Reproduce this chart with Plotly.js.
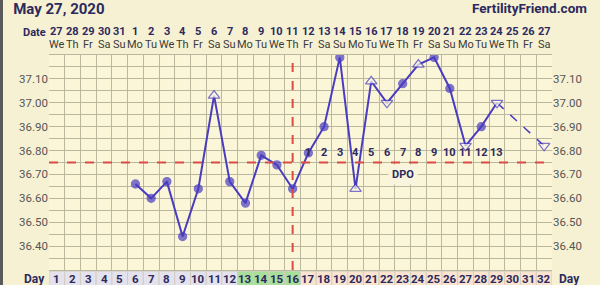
<!DOCTYPE html>
<html>
<head>
<meta charset="utf-8">
<script src="https://cdn.plot.ly/plotly-3.0.1.min.js"></script>
<style>
  html, body { margin: 0; padding: 0; background: #f7f1d3; }
  #chart { width: 600px; height: 285px; }
</style>
</head>
<body>
<div id="chart"></div>
<script>
// ---- data ----
const days = [1,2,3,4,5,6,7,8,9,10,11,12,13,14,15,16,17,18,19,20,21,22,23,24,25,26,27,28,29,30,31,32];
const dates = [27,28,29,30,31,1,2,3,4,5,6,7,8,9,10,11,12,13,14,15,16,17,18,19,20,21,22,23,24,25,26,27];
const weekdays = ['We','Th','Fr','Sa','Su','Mo','Tu','We','Th','Fr','Sa','Su','Mo','Tu','We','Th','Fr','Sa','Su','Mo','Tu','We','Th','Fr','Sa','Su','Mo','Tu','We','Th','Fr','Sa'];
const temps = [null,null,null,null,null,36.66,36.60,36.67,36.44,36.64,37.03,36.67,36.58,36.78,36.74,36.64,36.79,36.90,37.19,36.64,37.09,37.00,37.08,37.16,37.19,37.06,36.82,36.90,37.00,null,null,36.82];
// c = circle, u = open triangle up, d = open triangle down
const markerKinds = [null,null,null,null,null,'c','c','c','c','c','u','c','c','c','c','c','c','c','c','u','u','d','c','u','c','c','d','c','d',null,null,'d'];
const phase = ['a','a','a','a','a','a','a','a','a','a','a','a','f','f','f','f','l','l','l','l','l','l','l','l','l','l','l','l','l','l','l','l'];
const coverline = 36.75;
const ovulationDay = 16;
const dpoDays = [17,18,19,20,21,22,23,24,25,26,27,28,29];
const dpoLabels = ['1','2','3','4','5','6','7','8','9','10','11','12','13'];
const yTickVals = [36.40,36.50,36.60,36.70,36.80,36.90,37.00,37.10];
const yTickText = ['36.40','36.50','36.60','36.70','36.80','36.90','37.00','37.10'];

// ---- styles ----
const LINE = '#4a3cc0';
const NAVY = '#2c2a5e';
const GRID = '#bcb79f';
const RED = '#dc4b45';
const phaseColor = {a: '#e4e2ec', f: '#a7df9b', l: '#fbe4cf'};

// solid line: up to last point before the gap
let lastSolid = temps.length - 1;
for (let i = 0; i < temps.length; i++) {
  if (temps[i] !== null && i + 1 < temps.length && temps[i + 1] === null && temps.slice(i + 1).some(v => v !== null) && i > 6) { lastSolid = i; break; }
}
const solidX = days.slice(0, lastSolid + 1);
const solidY = temps.slice(0, lastSolid + 1);
let nextIdx = lastSolid + 1;
while (nextIdx < temps.length && temps[nextIdx] === null) nextIdx++;
const dashX = [days[lastSolid], days[nextIdx]];
const dashY = [temps[lastSolid], temps[nextIdx]];

const mX = [], mY = [], mSym = [], mCol = [], mSize = [];
for (let i = 0; i < days.length; i++) {
  if (temps[i] === null) continue;
  mX.push(days[i]); mY.push(temps[i]);
  const k = markerKinds[i];
  if (k === 'c') { mSym.push('circle'); mCol.push(LINE); mSize.push(8); }
  else if (k === 'u') { mSym.push('triangle-up'); mCol.push('#fbf8e6'); mSize.push(10); }
  else { mSym.push('triangle-down'); mCol.push('#fbf8e6'); mSize.push(10); }
}

const traces = [
  {x: solidX, y: solidY, type: 'scatter', mode: 'lines', connectgaps: false,
   line: {color: LINE, width: 2}, hoverinfo: 'skip', showlegend: false},
  {x: dashX, y: dashY, type: 'scatter', mode: 'lines',
   line: {color: LINE, width: 1.5, dash: 'dash'}, hoverinfo: 'skip', showlegend: false},
  {x: mX, y: mY, type: 'scatter', mode: 'markers',
   marker: {symbol: mSym, color: mCol, size: mSize, line: {color: LINE, width: 1.3}},
   hoverinfo: 'skip', showlegend: false},
  {x: [1], y: [36.5], type: 'scatter', mode: 'none', yaxis: 'y2', hoverinfo: 'skip', showlegend: false}
];

// grid values every 0.05
const gridVals = [];
const gridText = [];
for (let v = 36.30; v <= 37.2001; v += 0.05) {
  const r = Math.round(v * 100) / 100;
  gridVals.push(r);
  const idx = yTickVals.findIndex(t => Math.abs(t - r) < 1e-6);
  gridText.push(idx >= 0 ? yTickText[idx] : '');
}

const shapes = [];
const annotations = [];

// day row boxes
for (let i = 0; i < days.length; i++) {
  shapes.push({type: 'rect', xref: 'x', yref: 'paper', x0: days[i] - 0.5, x1: days[i] + 0.5,
    y0: -0.09, y1: -0.005, fillcolor: phaseColor[phase[i]], line: {color: '#d2cdc2', width: 1}, layer: 'below'});
  annotations.push({xref: 'x', yref: 'paper', x: days[i], y: -0.04, text: '<b>' + days[i] + '</b>',
    showarrow: false, font: {family: 'Roboto, sans-serif', size: 11.5, color: NAVY}, yanchor: 'middle'});
  annotations.push({xref: 'x', yref: 'paper', x: days[i], y: 1.11, text: '<b>' + dates[i] + '</b>',
    showarrow: false, font: {family: 'Roboto, sans-serif', size: 11, color: NAVY}, yanchor: 'middle'});
  annotations.push({xref: 'x', yref: 'paper', x: days[i], y: 1.05, text: weekdays[i],
    showarrow: false, font: {family: 'Roboto, sans-serif', size: 11, color: '#3a3a3a'}, yanchor: 'middle'});
}

// coverline and ovulation line
shapes.push({type: 'line', xref: 'paper', yref: 'y', x0: 0, x1: 1, y0: coverline, y1: coverline,
  line: {color: RED, width: 2, dash: 'dash'}});
shapes.push({type: 'line', xref: 'x', yref: 'paper', x0: ovulationDay, x1: ovulationDay, y0: 0, y1: 1,
  line: {color: RED, width: 2, dash: 'dash'}});
// left frame edge
shapes.push({type: 'rect', xref: 'paper', yref: 'paper', x0: -49/503, x1: -46/503, y0: -0.1, y1: 1.3,
  fillcolor: '#5a5a5a', line: {width: 0}});

// DPO numbers
for (let i = 0; i < dpoDays.length; i++) {
  annotations.push({xref: 'x', yref: 'y', x: dpoDays[i], y: 36.79, text: '<b>' + dpoLabels[i] + '</b>',
    showarrow: false, font: {family: 'Roboto, sans-serif', size: 11, color: NAVY}, yanchor: 'middle'});
}
annotations.push({xref: 'x', yref: 'y', x: 23, y: 36.70, text: '<b>DPO</b>', showarrow: false,
  font: {family: 'Roboto, sans-serif', size: 11, color: NAVY}, bgcolor: '#f8f4dd', borderpad: 3, yanchor: 'middle'});

// header texts
annotations.push({xref: 'paper', yref: 'paper', x: -1/503, y: 1.105, text: '<b>Date</b>', showarrow: false,
  xanchor: 'right', yanchor: 'middle', font: {family: 'Roboto, sans-serif', size: 11, color: NAVY}});
annotations.push({xref: 'paper', yref: 'paper', x: -2/503, y: -0.04, text: '<b>Day</b>', showarrow: false,
  xanchor: 'right', yanchor: 'middle', font: {family: 'Roboto, sans-serif', size: 12, color: NAVY}});
annotations.push({xref: 'paper', yref: 'paper', x: 1 + 5/503, y: -0.04, text: '<b>Day</b>', showarrow: false,
  xanchor: 'left', yanchor: 'middle', font: {family: 'Roboto, sans-serif', size: 12, color: NAVY}});
annotations.push({xref: 'paper', yref: 'paper', x: 1 + 37/503, y: 1.22, text: '<b>FertilityFriend.com</b>', showarrow: false,
  xanchor: 'right', yanchor: 'middle', font: {family: 'Roboto, sans-serif', size: 13.5, color: NAVY}});

const layout = {
  width: 600, height: 285,
  margin: {l: 49, r: 48, t: 55, b: 15},
  paper_bgcolor: '#f7f1d3',
  plot_bgcolor: '#fbf6d8',
  title: {text: '<b>May 27, 2020</b>', xref: 'container', yref: 'container', x: 0.022, xanchor: 'left',
    y: 0.968, yanchor: 'middle', font: {family: 'Roboto, sans-serif', size: 15, color: NAVY}},
  xaxis: {range: [0.5, 32.5], tick0: 0.5, dtick: 1, showticklabels: false, showgrid: true,
    gridcolor: GRID, gridwidth: 1, zeroline: false, ticks: '', fixedrange: true,
    showline: true, linecolor: GRID, mirror: true},
  yaxis: {range: [36.30, 37.20], tickmode: 'array', tickvals: gridVals, ticktext: gridText,
    showgrid: true, gridcolor: GRID, gridwidth: 1, zeroline: false, ticks: '',
    tickfont: {family: 'Roboto, sans-serif', size: 11.5, color: '#555'}, fixedrange: true},
  yaxis2: {range: [36.30, 37.20], overlaying: 'y', side: 'right', tickmode: 'array',
    tickvals: yTickVals, ticktext: yTickText, showgrid: false, zeroline: false, ticks: '',
    tickfont: {family: 'Roboto, sans-serif', size: 11.5, color: '#555'}, fixedrange: true},
  shapes: shapes,
  annotations: annotations
};

Plotly.newPlot('chart', traces, layout, {staticPlot: true, displayModeBar: false});
</script>
</body>
</html>
